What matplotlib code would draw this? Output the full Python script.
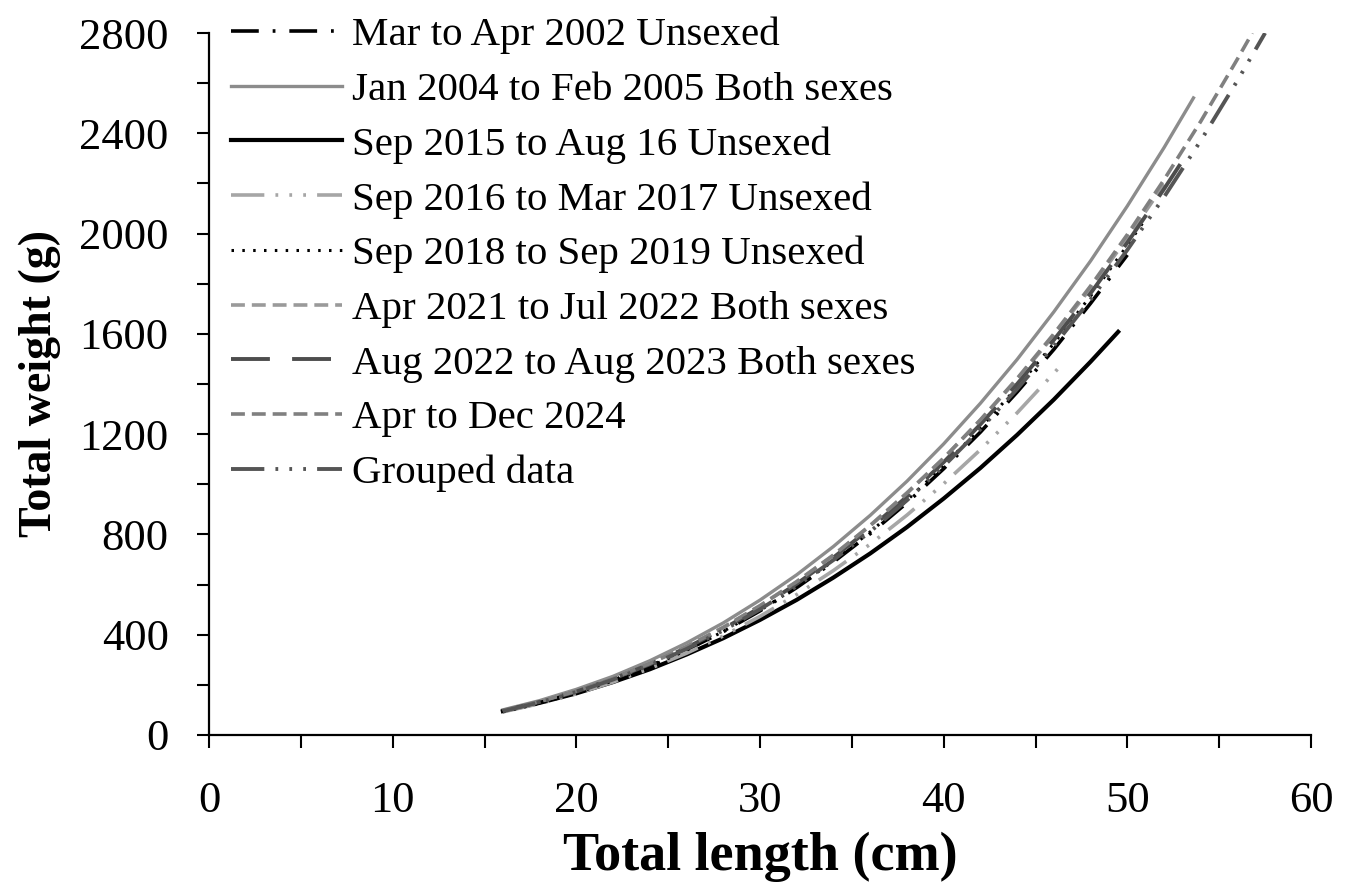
import matplotlib
matplotlib.use("Agg")
import matplotlib.pyplot as plt

plt.rcParams.update({
    "font.family": "serif",
    "font.serif": ["Liberation Serif", "DejaVu Serif"],
    "lines.scale_dashes": False,
    "lines.dash_capstyle": "butt",
})

# length-weight curves (length in cm, weight in g)
len_2002 = [17, 18, 20, 22, 24, 26, 28, 30, 32, 34, 36, 38, 40, 42, 44, 46, 48, 50]
wt_2002 = [110, 129, 169, 218, 275, 339, 412, 495, 588, 690, 803, 926, 1062,
           1208, 1368, 1538, 1722, 1915]

len_2004 = [16, 18, 20, 22, 24, 26, 28, 30, 32, 34, 36, 38, 40, 42, 44, 46, 48,
            50, 52, 53.6]
wt_2004 = [100, 137, 182, 234, 296, 367, 447, 538, 639, 752, 876, 1012, 1161,
           1323, 1498, 1688, 1891, 2110, 2343, 2541]

len_2015 = [16, 18, 20, 22, 24, 26, 28, 30, 32, 34, 36, 38, 40, 42, 44, 46, 48, 49.5]
wt_2015 = [95, 128, 166, 211, 262, 321, 386, 459, 539, 628, 724, 829, 943,
           1065, 1197, 1338, 1489, 1608]

len_2016 = [16, 18, 20, 22, 24, 26, 28, 30, 32, 34, 36, 38, 40, 42, 44, 46, 46.5]
wt_2016 = [92, 125, 164, 211, 265, 326, 395, 473, 560, 656, 761, 877, 1002,
           1138, 1285, 1443, 1484]

len_2018 = [16, 18, 20, 22, 24, 26, 28, 30, 32, 34, 36, 38, 40, 42, 44, 46, 48, 50, 51]
wt_2018 = [92, 126, 167, 216, 273, 338, 413, 497, 590, 695, 810, 936, 1074,
           1224, 1387, 1562, 1751, 1953, 2060]

len_2021 = [16, 18, 20, 22, 24, 26, 28, 30, 32, 34, 36, 38, 40, 42, 44, 46, 48, 50, 52]
wt_2021 = [98, 134, 176, 227, 286, 353, 430, 516, 612, 718, 836, 966, 1104,
           1256, 1418, 1594, 1782, 1983, 2196]

len_2022 = [16, 18, 20, 22, 24, 26, 28, 30, 32, 34, 36, 38, 40, 42, 44, 46, 48,
            50, 52, 53]
wt_2022 = [96, 132, 173, 224, 282, 348, 423, 508, 603, 708, 824, 951, 1088,
           1239, 1400, 1576, 1762, 1964, 2178, 2290]

len_2024 = [16, 18, 20, 22, 24, 26, 28, 30, 32, 34, 36, 38, 40, 42, 44, 46, 48,
            50, 52, 54, 56, 56.8]
wt_2024 = [97, 133, 175, 226, 285, 352, 428, 515, 611, 717, 835, 964, 1104,
           1257, 1422, 1600, 1791, 1996, 2215, 2448, 2697, 2800]

len_grouped = [16, 18, 20, 22, 24, 26, 28, 30, 32, 34, 36, 38, 40, 42, 44, 46,
               48, 50, 52, 54, 56, 57.5]
wt_grouped = [95, 130, 171, 221, 278, 343, 417, 501, 594, 698, 811, 936, 1072,
              1220, 1380, 1552, 1737, 1935, 2146, 2371, 2611, 2800]

labels = [
    "Mar to Apr 2002 Unsexed",
    "Jan 2004 to Feb 2005 Both sexes",
    "Sep 2015 to Aug 16 Unsexed",
    "Sep 2016 to Mar 2017 Unsexed",
    "Sep 2018 to Sep 2019 Unsexed",
    "Apr 2021 to Jul 2022 Both sexes",
    "Aug 2022 to Aug 2023 Both sexes",
    "Apr to Dec 2024",
    "Grouped data",
]

series = [
    (len_2002, wt_2002, "#000000", 2.6, (0, (20, 10, 2, 10))),
    (len_2004, wt_2004, "#8c8c8c", 2.4, "-"),
    (len_2015, wt_2015, "#000000", 3.0, "-"),
    (len_2016, wt_2016, "#a6a6a6", 2.6, (0, (24, 8, 2, 8, 2, 8, 2, 8))),
    (len_2018, wt_2018, "#000000", 2.2, (0, (1.8, 6))),
    (len_2021, wt_2021, "#9a9a9a", 2.6, (0, (10, 5))),
    (len_2022, wt_2022, "#4d4d4d", 2.8, (0, (28, 16))),
    (len_2024, wt_2024, "#808080", 2.6, (0, (10, 5))),
    (len_grouped, wt_grouped, "#555555", 2.8, (0, (24, 8, 2, 8, 2, 8, 2, 8))),
]

fig = plt.figure(figsize=(13.51, 8.90), dpi=100)
ax = fig.add_axes([0.1547, 0.1742, 0.8157, 0.7887])

for (x, y, c, lw, ls), lab in zip(series, labels):
    ax.plot(x, y, color=c, lw=lw, linestyle=ls, label=lab)

ax.set_xlim(0, 60)
ax.set_ylim(0, 2800)
ax.set_xticks(range(0, 61, 10))
ax.set_xticks(range(0, 61, 5), minor=True)
ax.set_yticks(range(0, 2801, 400))
ax.set_yticks(range(0, 2801, 200), minor=True)

for side in ["top", "right"]:
    ax.spines[side].set_visible(False)
for side in ["left", "bottom"]:
    ax.spines[side].set_linewidth(1.6)

ax.tick_params(axis="both", which="both", direction="out", length=9, width=1.5)
ax.tick_params(axis="y", labelsize=32, pad=20)
ax.tick_params(axis="x", labelsize=32, pad=24)

ax.set_xlabel("Total length (cm)", fontsize=39, fontweight="bold", labelpad=8)
ax.set_ylabel("Total weight (g)", fontsize=33, fontweight="bold", labelpad=13)

ax.legend(loc="upper left", bbox_to_anchor=(0.005, 1.0465), frameon=False,
          fontsize=29.5, handlelength=2.7, handletextpad=0.25, labelspacing=0.415,
          borderaxespad=0)

fig.savefig("out.png", dpi=100)
